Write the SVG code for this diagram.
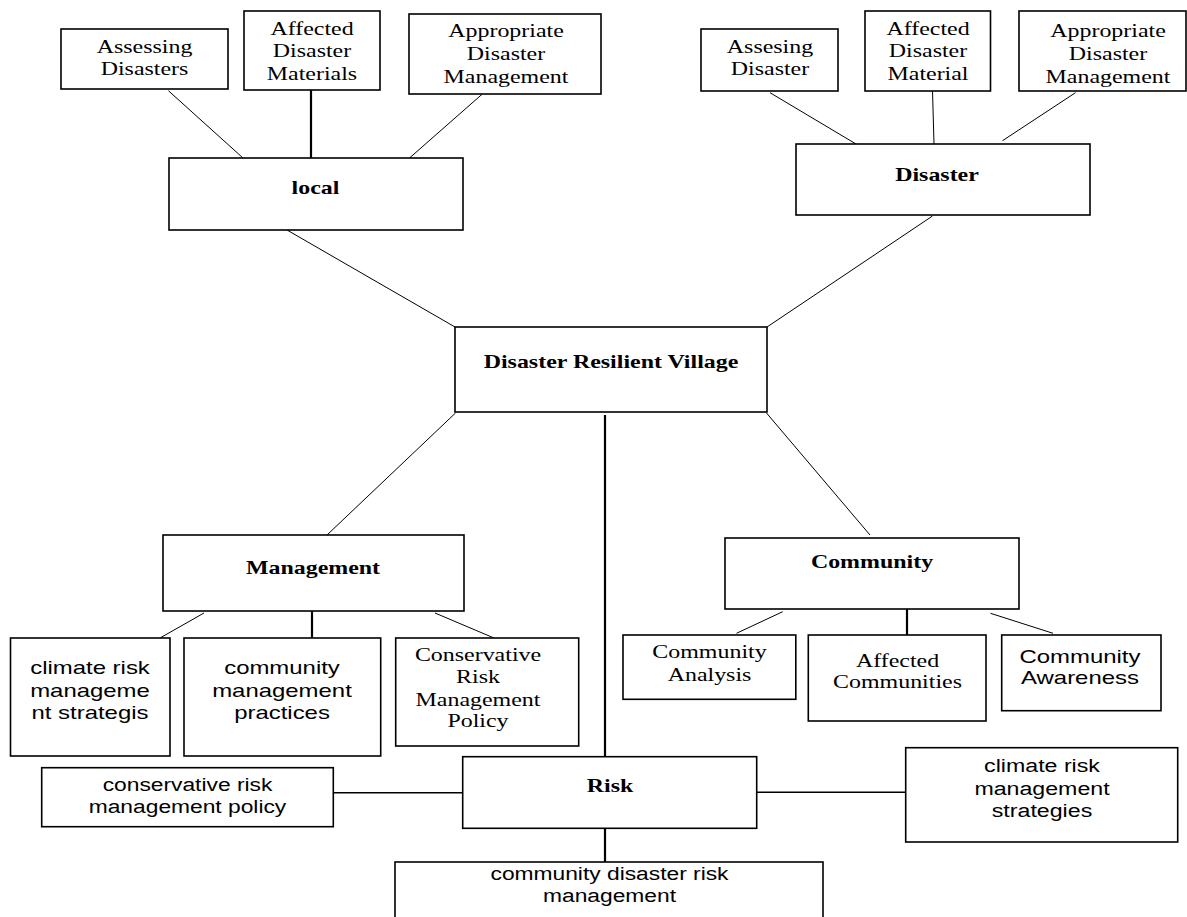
<svg xmlns="http://www.w3.org/2000/svg" width="1187" height="917" viewBox="0 0 1187 917">
<style>
.box{fill:#fff;stroke:#000;stroke-width:1.6}
.c{stroke:#000;stroke-width:1;fill:none}
.ct{stroke:#000;stroke-width:2.2;fill:none}
.ch{stroke:#000;stroke-width:1.4;fill:none}
text{fill:#000;text-anchor:middle}
.serif{font-family:"Liberation Serif","Times New Roman",serif;font-size:18px}
.sans{font-family:"Liberation Sans",Arial,sans-serif;font-size:18px}
.sans2{font-family:"Liberation Sans",Arial,sans-serif;font-size:19px}
.b{font-weight:bold}
</style>
<rect width="1187" height="917" fill="#fff"/>
<g id="connectors">
<line class="c" x1="168.4" y1="90.7" x2="243" y2="158"/>
<line class="ct" x1="311" y1="90" x2="311" y2="158"/>
<line class="c" x1="482" y1="94.3" x2="409.5" y2="158"/>
<line class="c" x1="287" y1="230" x2="455" y2="327"/>
<line class="c" x1="770" y1="92.7" x2="856.5" y2="144.3"/>
<line class="c" x1="932.5" y1="91" x2="934" y2="144"/>
<line class="c" x1="1075.5" y1="92.7" x2="1002.5" y2="140.7"/>
<line class="c" x1="932.5" y1="216" x2="767" y2="327"/>
<line class="c" x1="455.5" y1="413" x2="327" y2="535"/>
<line class="ct" x1="605" y1="415" x2="605" y2="757"/>
<line class="c" x1="766.5" y1="413" x2="870" y2="535"/>
<line class="c" x1="204" y1="613" x2="160" y2="638"/>
<line class="ct" x1="312" y1="611" x2="312" y2="639"/>
<line class="c" x1="435" y1="613" x2="494" y2="638"/>
<line class="c" x1="782.7" y1="611.7" x2="736.5" y2="633.3"/>
<line class="ct" x1="907" y1="609" x2="907" y2="635"/>
<line class="c" x1="990.5" y1="613.3" x2="1053" y2="633.3"/>
<line class="ch" x1="333.3" y1="792.7" x2="462.7" y2="792.7"/>
<line class="ch" x1="756.7" y1="792.3" x2="905.7" y2="792.3"/>
<line class="ct" x1="605" y1="828" x2="605" y2="862"/>
</g>
<g id="assessing-disasters">
<rect class="box" x="61" y="29" width="167" height="60"/>
<text class="serif" transform="translate(144.5,0) scale(1.33,1)"><tspan x="0" y="53">Assessing</tspan><tspan x="0" y="75">Disasters</tspan></text>
</g>
<g id="affected-disaster-materials">
<rect class="box" x="244" y="11" width="136" height="79"/>
<text class="serif" transform="translate(312,0) scale(1.33,1)"><tspan x="0" y="35">Affected</tspan><tspan x="0" y="57.5">Disaster</tspan><tspan x="0" y="80">Materials</tspan></text>
</g>
<g id="appropriate-disaster-management-1">
<rect class="box" x="409" y="14" width="192" height="80"/>
<text class="serif" transform="translate(506,0) scale(1.33,1)"><tspan x="0" y="37">Appropriate</tspan><tspan x="0" y="60">Disaster</tspan><tspan x="0" y="83">Management</tspan></text>
</g>
<g id="local">
<rect class="box" x="169" y="158" width="294" height="72"/>
<text class="serif b" transform="translate(315.5,0) scale(1.33,1)"><tspan x="0" y="194">local</tspan></text>
</g>
<g id="assesing-disaster">
<rect class="box" x="701" y="29" width="137" height="62"/>
<text class="serif" transform="translate(770,0) scale(1.33,1)"><tspan x="0" y="53">Assesing</tspan><tspan x="0" y="75">Disaster</tspan></text>
</g>
<g id="affected-disaster-material">
<rect class="box" x="865" y="11" width="125.5" height="80"/>
<text class="serif" transform="translate(928,0) scale(1.33,1)"><tspan x="0" y="35">Affected</tspan><tspan x="0" y="57.5">Disaster</tspan><tspan x="0" y="80">Material</tspan></text>
</g>
<g id="appropriate-disaster-management-2">
<rect class="box" x="1019" y="11" width="167" height="80"/>
<text class="serif" transform="translate(1108,0) scale(1.33,1)"><tspan x="0" y="37">Appropriate</tspan><tspan x="0" y="60">Disaster</tspan><tspan x="0" y="83">Management</tspan></text>
</g>
<g id="disaster">
<rect class="box" x="796" y="144" width="294" height="71"/>
<text class="serif b" transform="translate(937,0) scale(1.33,1)"><tspan x="0" y="181">Disaster</tspan></text>
</g>
<g id="disaster-resilient-village">
<rect class="box" x="455" y="327" width="312" height="85"/>
<text class="serif b" transform="translate(611,0) scale(1.33,1)"><tspan x="0" y="368">Disaster Resilient Village</tspan></text>
</g>
<g id="management">
<rect class="box" x="163" y="535" width="301" height="76"/>
<text class="serif b" transform="translate(313,0) scale(1.33,1)"><tspan x="0" y="574">Management</tspan></text>
</g>
<g id="climate-risk-managemen-strategis">
<rect class="box" x="10.5" y="638" width="159.5" height="118"/>
<text class="sans" transform="translate(90,0) scale(1.33,1)"><tspan x="0" y="674.3">climate risk</tspan><tspan x="0" y="696.7">manageme</tspan><tspan x="0" y="719.3">nt strategis</tspan></text>
</g>
<g id="community-management-practices">
<rect class="box" x="184" y="638" width="196.7" height="118"/>
<text class="sans" transform="translate(282,0) scale(1.33,1)"><tspan x="0" y="674.3">community</tspan><tspan x="0" y="696.7">management</tspan><tspan x="0" y="719.3">practices</tspan></text>
</g>
<g id="conservative-risk-management-policy-1">
<rect class="box" x="395.7" y="638" width="183" height="108"/>
<text class="serif" transform="translate(478,0) scale(1.33,1)"><tspan x="0" y="661">Conservative</tspan><tspan x="0" y="683.3">Risk</tspan><tspan x="0" y="706">Management</tspan><tspan x="0" y="727">Policy</tspan></text>
</g>
<g id="community">
<rect class="box" x="725" y="538" width="294" height="71"/>
<text class="serif b" transform="translate(872,0) scale(1.33,1)"><tspan x="0" y="568">Community</tspan></text>
</g>
<g id="community-analysis">
<rect class="box" x="623" y="635" width="172.8" height="64.3"/>
<text class="serif" transform="translate(709.5,0) scale(1.33,1)"><tspan x="0" y="658.3">Community</tspan><tspan x="0" y="681">Analysis</tspan></text>
</g>
<g id="affected-communities">
<rect class="box" x="808.3" y="635" width="177.7" height="86"/>
<text class="serif" transform="translate(897.5,0) scale(1.33,1)"><tspan x="0" y="666.7">Affected</tspan><tspan x="0" y="688.3">Communities</tspan></text>
</g>
<g id="community-awareness">
<rect class="box" x="1001.7" y="635" width="159.3" height="75.7"/>
<text class="sans" transform="translate(1080,0) scale(1.33,1)"><tspan x="0" y="663.5">Community</tspan><tspan x="0" y="684">Awareness</tspan></text>
</g>
<g id="risk">
<rect class="box" x="462.7" y="756.7" width="294" height="71.6"/>
<text class="serif b" transform="translate(610,0) scale(1.33,1)"><tspan x="0" y="792">Risk</tspan></text>
</g>
<g id="conservative-risk-management-policy-2">
<rect class="box" x="41.7" y="767.7" width="291.6" height="59"/>
<text class="sans2" transform="translate(187.5,0) scale(1.2,1)"><tspan x="0" y="790.7">conservative risk</tspan><tspan x="0" y="812.7">management policy</tspan></text>
</g>
<g id="climate-risk-management-strategies">
<rect class="box" x="905.7" y="747.7" width="272" height="94.3"/>
<text class="sans2" transform="translate(1042,0) scale(1.22,1)"><tspan x="0" y="771.7">climate risk</tspan><tspan x="0" y="795">management</tspan><tspan x="0" y="816.7">strategies</tspan></text>
</g>
<g id="community-disaster-risk-management">
<rect class="box" x="395" y="862" width="428" height="70"/>
<text class="sans2" transform="translate(609.5,0) scale(1.2,1)"><tspan x="0" y="880">community disaster risk</tspan><tspan x="0" y="901.7">management</tspan></text>
</g>
</svg>
